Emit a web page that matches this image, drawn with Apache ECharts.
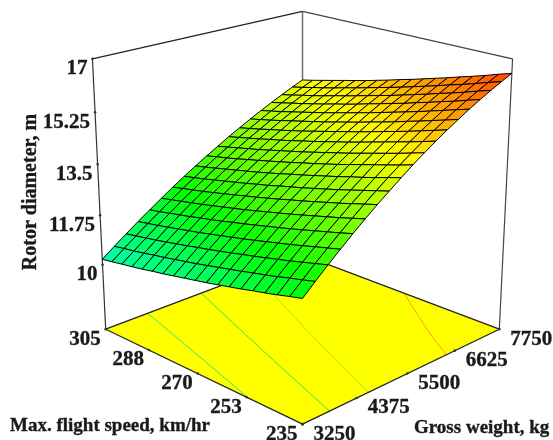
<!DOCTYPE html>
<html><head><meta charset="utf-8">
<style>html,body{margin:0;padding:0;background:#fff}#c{width:553px;height:440px}</style>
<script src="https://cdn.jsdelivr.net/npm/echarts@6/dist/echarts.min.js"></script>
</head><body><div id="c"></div>
<script>
// Grid of the response surface
const grossWeight=[3250,3500,3750,4000,4250,4500,4750,5000,5250,5500,5750,6000,6250,6500,6750,7000,7250,7500,7750];
const flightSpeed=[235,238.89,242.78,246.67,250.56,254.44,258.33,262.22,266.11,270,273.89,277.78,281.67,285.56,289.44,293.33,297.22,301.11,305];
// Rotor diameter (m): one row per speed, one value per weight
const row00=[11.70,12.07,12.43,12.77,13.11,13.43,13.74,14.03,14.32,14.60,14.86,15.11,15.35,15.57,15.79,15.99,16.18,16.36,16.53];
const row01=[11.60,11.96,12.32,12.66,12.99,13.31,13.62,13.91,14.20,14.47,14.73,14.98,15.22,15.44,15.66,15.86,16.05,16.23,16.40];
const row02=[11.49,11.86,12.21,12.55,12.88,13.19,13.50,13.79,14.07,14.35,14.60,14.85,15.09,15.31,15.53,15.72,15.91,16.09,16.26];
const row03=[11.39,11.75,12.10,12.44,12.77,13.08,13.38,13.67,13.95,14.23,14.48,14.73,14.96,15.18,15.40,15.60,15.78,15.96,16.13];
const row04=[11.30,11.65,12.00,12.33,12.66,12.97,13.27,13.55,13.84,14.11,14.36,14.61,14.84,15.06,15.27,15.47,15.66,15.84,16.01];
const row05=[11.20,11.56,11.90,12.23,12.55,12.86,13.16,13.44,13.72,13.99,14.24,14.49,14.72,14.93,15.15,15.35,15.53,15.71,15.88];
const row06=[11.11,11.46,11.80,12.13,12.45,12.75,13.05,13.33,13.61,13.87,14.12,14.37,14.60,14.81,15.03,15.22,15.41,15.59,15.76];
const row07=[11.02,11.37,11.71,12.03,12.35,12.65,12.95,13.22,13.50,13.76,14.01,14.25,14.48,14.70,14.91,15.11,15.29,15.47,15.64];
const row08=[10.93,11.28,11.61,11.93,12.25,12.55,12.84,13.12,13.39,13.65,13.90,14.14,14.37,14.58,14.79,14.99,15.17,15.35,15.52];
const row09=[10.85,11.19,11.52,11.84,12.15,12.45,12.74,13.02,13.29,13.55,13.79,14.03,14.26,14.47,14.68,14.88,15.06,15.24,15.41];
const row10=[10.77,11.10,11.43,11.75,12.06,12.35,12.64,12.91,13.18,13.44,13.68,13.92,14.15,14.36,14.57,14.76,14.95,15.13,15.29];
const row11=[10.69,11.02,11.35,11.66,11.96,12.26,12.55,12.82,13.08,13.34,13.58,13.82,14.04,14.25,14.46,14.65,14.84,15.02,15.18];
const row12=[10.61,10.94,11.26,11.57,11.87,12.17,12.45,12.72,12.98,13.24,13.48,13.71,13.93,14.15,14.35,14.55,14.73,14.91,15.07];
const row13=[10.54,10.86,11.18,11.49,11.79,12.08,12.36,12.63,12.89,13.14,13.38,13.61,13.83,14.05,14.25,14.44,14.63,14.81,14.97];
const row14=[10.46,10.79,11.10,11.41,11.70,11.99,12.27,12.54,12.80,13.05,13.28,13.52,13.73,13.95,14.15,14.34,14.52,14.70,14.87];
const row15=[10.39,10.71,11.02,11.33,11.62,11.91,12.18,12.45,12.71,12.95,13.19,13.42,13.64,13.85,14.05,14.24,14.42,14.60,14.77];
const row16=[10.33,10.64,10.95,11.25,11.54,11.83,12.10,12.36,12.62,12.86,13.10,13.33,13.54,13.75,13.95,14.15,14.33,14.51,14.67];
const row17=[10.26,10.58,10.88,11.18,11.46,11.75,12.02,12.28,12.53,12.78,13.01,13.24,13.45,13.66,13.86,14.05,14.23,14.41,14.57];
const row18=[10.20,10.51,10.81,11.11,11.39,11.67,11.94,12.20,12.45,12.69,12.92,13.15,13.36,13.57,13.77,13.96,14.14,14.32,14.48];
const rotorDiameter=[row00,row01,row02,row03,row04,row05,row06,row07,row08,row09,row10,row11,row12,row13,row14,row15,row16,row17,row18];
// Tick labels
const weightTicks=[3250,4375,5500,6625,7750];
const speedTicks=[305,288,270,253,235];
const heightTicks=['10','11.75','13.5','15.25','17'];
// Contour levels on the floor and their line colours
const contourLevels=[11.25,12.5,13.6,15.5];
const contourColors=['#2ee88a','#33e833','#9ce61a','#ff9a1a'];
// Colour ramp: value stops and colours
const rampValues=[6.68,9.32,11.96,14.6,17.24];
const rampColors=[[0,0,255],[0,255,255],[0,255,0],[255,255,0],[255,0,0]];

// Axis ranges and camera
const W0=3250,W1=7750,S0=235,S1=305,Z_TOP=17,Z_PER_UNIT=7/1.5;
const PITCH=20*Math.PI/180,DIST=10.5,SCALE=143.7,CX=302.5,CY=198.4;
const cp=Math.cos(PITCH),sp=Math.sin(PITCH);
function project(w,s,Z){
  const X=2*(w-W0)/(W1-W0)-1,Y=2*(s-S0)/(S1-S0)-1;
  const r=(X-Y)/Math.SQRT2,d=-(X+Y)/Math.SQRT2;
  const sy=Z*cp-d*sp,sd=d*cp+Z*sp,k=DIST/(DIST-sd);
  return [CX+SCALE*k*r,CY-SCALE*k*sy];
}
const zOf=z=>1-(Z_TOP-z)/Z_PER_UNIT;
function colorOf(z){
  let i=0;while(i<rampValues.length-2&&z>rampValues[i+1])i++;
  const t=Math.max(0,Math.min(1,(z-rampValues[i])/(rampValues[i+1]-rampValues[i])));
  const a=rampColors[i],b=rampColors[i+1];
  return 'rgb('+a.map((c,n)=>Math.round(c+(b[n]-c)*t)).join(',')+')';
}
const FONT='bold 21px "Liberation Serif"';
const TITLE_FONT='bold 19px "Liberation Serif"';
const ROTOR_FONT='bold 20px "Liberation Serif"';
const INK='#1a1a1a';

// Cells, back to front
const cells=[];
for(let j=rotorDiameter.length-2;j>=0;j--)for(let i=grossWeight.length-2;i>=0;i--)cells.push([i,j]);

// Contour segments through marching squares
const segments=[];
contourLevels.forEach((lv,l)=>{
  for(let j=0;j<flightSpeed.length-1;j++)for(let i=0;i<grossWeight.length-1;i++){
    const c=[[i,j],[i+1,j],[i+1,j+1],[i,j+1]];
    const pts=[];
    for(let e=0;e<4;e++){
      const a=c[e],b=c[(e+1)%4];
      const za=rotorDiameter[a[1]][a[0]],zb=rotorDiameter[b[1]][b[0]];
      if((za<lv)!==(zb<lv)){
        const t=(lv-za)/(zb-za);
        pts.push([grossWeight[a[0]]+t*(grossWeight[b[0]]-grossWeight[a[0]]),flightSpeed[a[1]]+t*(flightSpeed[b[1]]-flightSpeed[a[1]])]);
      }
    }
    if(pts.length>=2)segments.push([pts[0][0],pts[0][1],pts[1][0],pts[1][1],l]);
  }
});

// Box edges in data terms: [w,s,Z, w,s,Z, colour, width]
const edges=[
 [W0,S1,-1,W0,S1,1,'#333',1.2],
 [W1,S0,-1,W1,S0,1,'#444',1.2],
 [W1,S1,-1,W1,S1,1,'#777',1.6],
 [W0,S1,1,W1,S1,1,'#222',1.2],
 [W1,S1,1,W1,S0,1,'#444',1.2]
];
const floorEdges=[
 [W0,S1,-1,W0,S0,-1,'#222',1.2],
 [W0,S0,-1,W1,S0,-1,'#222',1.2],
 [W0,S1,-1,W1,S1,-1,'#222',1.2],
 [W1,S0,-1,W1,S1,-1,'#222',1.2]
];
function lineItem(api,e){
  const a=api.coord(project(e[0],e[1],e[2])),b=api.coord(project(e[3],e[4],e[5]));
  return {type:'line',shape:{x1:a[0],y1:a[1],x2:b[0],y2:b[1]},style:{stroke:e[6],lineWidth:e[7]}};
}
const common={type:'custom',coordinateSystem:'cartesian2d',silent:true,animation:false,clip:false,encode:{x:0,y:1}};
function tickMark(api,p){
  const a=api.coord(p);
  return {type:'circle',shape:{cx:a[0],cy:a[1],r:1.3},style:{fill:'#333'}};
}
function label(api,p,dx,dy,text,align){
  const a=api.coord(p);
  return {type:'text',style:{x:a[0]+dx,y:a[1]+dy,text:text,fill:INK,stroke:INK,lineWidth:0.35,font:FONT,align:align,verticalAlign:'middle'}};
}
const series=[
 Object.assign({},common,{name:'box',data:edges.map((e,i)=>[i]),renderItem:(p,api)=>lineItem(api,edges[api.value(0)])}),
 Object.assign({},common,{name:'floor',data:[[0]],renderItem:(p,api)=>({type:'polygon',
   shape:{points:[[W0,S1],[W0,S0],[W1,S0],[W1,S1]].map(q=>api.coord(project(q[0],q[1],-1)))},style:{fill:'#ffff00'}})}),
 Object.assign({},common,{name:'contours',data:segments,renderItem:(p,api)=>{
   const a=api.coord(project(api.value(0),api.value(1),-1)),b=api.coord(project(api.value(2),api.value(3),-1));
   return {type:'line',shape:{x1:a[0],y1:a[1],x2:b[0],y2:b[1]},style:{stroke:contourColors[api.value(4)],lineWidth:1}};
 }}),
 Object.assign({},common,{name:'floorEdges',data:floorEdges.map((e,i)=>[i]),renderItem:(p,api)=>lineItem(api,floorEdges[api.value(0)])}),
 Object.assign({},common,{name:'surface',data:cells,renderItem:(p,api)=>{
   const i=api.value(0),j=api.value(1);
   const c=[[i,j],[i+1,j],[i+1,j+1],[i,j+1]];
   let sum=0;
   const pts=c.map(q=>{const z=rotorDiameter[q[1]][q[0]];sum+=z;return api.coord(project(grossWeight[q[0]],flightSpeed[q[1]],zOf(z)));});
   return {type:'polygon',shape:{points:pts},style:{fill:colorOf(sum/4),stroke:'#000',lineWidth:1}};
 }}),
 Object.assign({},common,{name:'weightTicks',data:weightTicks.map(t=>[t]),renderItem:(p,api)=>{
   const w=api.value(0),q=project(w,S0,-1);
   return {type:'group',children:[tickMark(api,q),label(api,q,11,10,String(w),'left')]};
 }}),
 Object.assign({},common,{name:'speedTicks',data:speedTicks.map(t=>[t]),renderItem:(p,api)=>{
   const s=api.value(0),q=project(W0,s,-1);
   return {type:'group',children:[tickMark(api,q),label(api,q,-5,10,String(s),'right')]};
 }}),
 Object.assign({},common,{name:'heightTicks',data:heightTicks.map(t=>[+t]),renderItem:(p,api)=>{
   const z=api.value(0),q=project(W0,S1,zOf(z));
   return {type:'group',children:[tickMark(api,q),label(api,q,-5,10,heightTicks[p.dataIndex],'right')]};
 }})
];
const chart=echarts.init(document.getElementById('c'),null,{renderer:'canvas',width:553,height:440});
chart.setOption({
 animation:false,
 grid:{left:0,right:0,top:0,bottom:0},
 xAxis:{type:'value',min:0,max:553,show:false},
 yAxis:{type:'value',min:0,max:440,inverse:true,show:false},
 series:series,
 graphic:[
  {type:'text',x:31,y:192,rotation:Math.PI/2,style:{text:'Rotor diameter, m',font:ROTOR_FONT,fill:INK,stroke:INK,lineWidth:0.35,align:'center',verticalAlign:'middle'}},
  {type:'text',x:10,y:426,style:{text:'Max. flight speed, km/hr',font:TITLE_FONT,fill:INK,stroke:INK,lineWidth:0.35,align:'left',verticalAlign:'middle'}},
  {type:'text',x:414,y:428,style:{text:'Gross weight, kg',font:TITLE_FONT,fill:INK,stroke:INK,lineWidth:0.35,align:'left',verticalAlign:'middle'}}
 ]
});
</script></body></html>
